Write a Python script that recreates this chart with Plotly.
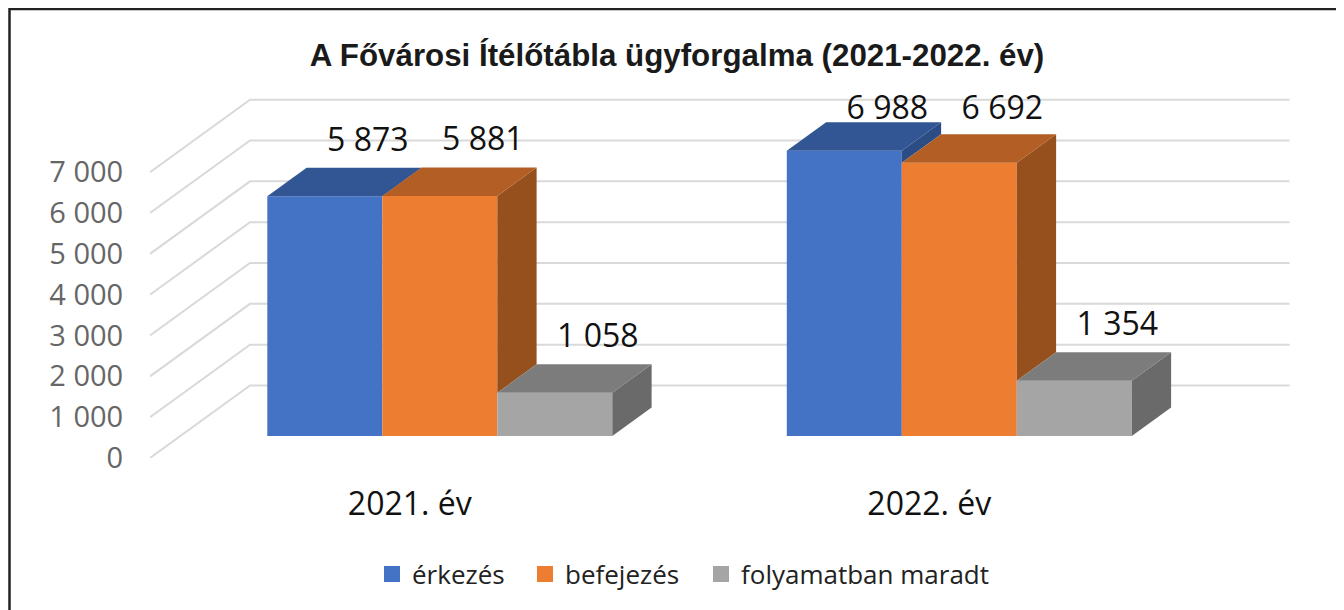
import plotly.graph_objects as go

categories = ["2021. év", "2022. év"]
series_names = ["érkezés", "befejezés", "folyamatban maradt"]
erkezes = [5873, 6988]
befejezes = [5881, 6692]
folyamatban = [1058, 1354]
series_values = [erkezes, befejezes, folyamatban]
value_labels = [["5 873", "6 988"], ["5 881", "6 692"], ["1 058", "1 354"]]
y_ticks = [0, 1000, 2000, 3000, 4000, 5000, 6000, 7000]
y_tick_labels = ["0", "1 000", "2 000", "3 000", "4 000", "5 000", "6 000", "7 000"]
front_colors = ["#4472C4", "#ED7D31", "#A5A5A5"]
top_colors = ["#325694", "#B35E24", "#7C7C7C"]
side_colors = ["#2B4C85", "#96501E", "#6A6A6A"]

PAGE = 8  # the page body offsets the figure by 8 px
W, H = 1344 - PAGE, 610 - PAGE
LEFT, RIGHT, TOP, BOTTOM = 150 - PAGE, 1300 - PAGE, 90 - PAGE, 458 - PAGE
PX_X = 519.5
PX_Y = 285.8 / 7000
XMAX = (RIGHT - LEFT) / PX_X
YMAX = (BOTTOM - TOP) / PX_Y
DX = 100 / PX_X
DY = 72.5 / PX_Y
D0, D1 = 0.303, 0.696
GROUP_START = 87 / PX_X
BAR_W = 115 / PX_X
GRID_END = (1289.5 - PAGE - LEFT) / PX_X
LABEL_DX = 43 / PX_X
LABEL_DY = 53.5 / PX_Y
LABEL_CEIL = (BOTTOM - (111 - PAGE)) / PX_Y
GRID = "#D9D9D9"
LEGEND_LEFT = [372, 525, 701]
LEGEND_IDS = ["legend", "legend2", "legend3"]


def proj(u, v, d):
    return u + d * DX, v + d * DY


fig = go.Figure()

gx, gy = [], []
for t in y_ticks:
    a = proj(0, t, 0)
    b = proj(0, t, 1)
    gx += [a[0], b[0], GRID_END, None]
    gy += [a[1], b[1], b[1], None]
fig.add_trace(go.Scatter(x=gx, y=gy, mode="lines", line=dict(color=GRID, width=2),
                         showlegend=False, hoverinfo="skip"))

for s, vals in enumerate(series_values):
    xs = [proj(i + GROUP_START + (s + 0.5) * BAR_W, 0, D0)[0] for i in range(len(vals))]
    base = proj(0, 0, D0)[1]
    fig.add_trace(go.Bar(x=xs, y=vals, base=base, width=BAR_W,
                         marker=dict(color=front_colors[s], line=dict(width=0)),
                         xaxis="x2", yaxis="y2", showlegend=False, hoverinfo="skip"))
    fig.add_trace(go.Scatter(x=[None], y=[None], mode="markers", name=series_names[s],
                             marker=dict(color=front_colors[s], symbol="square", size=16),
                             legend=LEGEND_IDS[s], showlegend=True,
                             xaxis="x2", yaxis="y2", hoverinfo="skip"))

for s, vals in enumerate(series_values):
    for i, v in enumerate(vals):
        u0 = i + GROUP_START + s * BAR_W
        u1 = u0 + BAR_W
        pts = [proj(u0, v, D0), proj(u1, v, D0), proj(u1, v, D1), proj(u0, v, D1)]
        low = series_values[s + 1][i] if s + 1 < len(series_values) else 0
        if low < v:
            side = [proj(u1, v, D0), proj(u1, v, D1), proj(u1, low, D1), proj(u1, low, D0)]
            fig.add_trace(go.Scatter(x=[p[0] for p in side] + [side[0][0]],
                                     y=[p[1] for p in side] + [side[0][1]],
                                     mode="lines", fill="toself", fillcolor=side_colors[s],
                                     line=dict(width=0), xaxis="x2", yaxis="y2",
                                     showlegend=False, hoverinfo="skip"))
        fig.add_trace(go.Scatter(x=[p[0] for p in pts] + [pts[0][0]],
                                 y=[p[1] for p in pts] + [pts[0][1]],
                                 mode="lines", fill="toself", fillcolor=top_colors[s],
                                 line=dict(width=0), xaxis="x2", yaxis="y2",
                                 showlegend=False, hoverinfo="skip"))

lx, ly, lt = [], [], []
for s, vals in enumerate(series_values):
    for i, v in enumerate(vals):
        px, py = proj(i + GROUP_START + (s + 0.5) * BAR_W, v, D0)
        lx.append(px + LABEL_DX)
        ly.append(min(py + LABEL_DY, LABEL_CEIL))
        lt.append(value_labels[s][i])
fig.add_trace(go.Scatter(x=lx, y=ly, text=lt, mode="text", textposition="middle center",
                         textfont=dict(family="Open Sans", size=32, color="#111111"),
                         xaxis="x2", yaxis="y2", showlegend=False, hoverinfo="skip"))


def legend_at(left):
    return dict(orientation="h", xref="container", yref="container",
                x=(left - PAGE) / W, xanchor="left", y=1 - (574 - PAGE) / H, yanchor="middle",
                font=dict(family="Open Sans", size=26, color="#222222"),
                bgcolor="rgba(0,0,0,0)")


fig.update_layout(
    width=W, height=H, autosize=False,
    paper_bgcolor="white", plot_bgcolor="white",
    margin=dict(l=LEFT, r=W - RIGHT, t=TOP, b=H - BOTTOM),
    barmode="overlay",
    title=dict(text="<b>A Fővárosi Ítélőtábla ügyforgalma (2021-2022. év)</b>",
               x=(677 - PAGE) / W, xanchor="center", y=1 - (55 - PAGE) / H, yanchor="middle",
               font=dict(family="Liberation Sans", size=31.3, color="#1a1a1a")),
    xaxis=dict(range=[0, XMAX], tickvals=[0.5, 1.5], ticktext=categories,
               showgrid=False, zeroline=False, showline=False, ticks="outside",
               ticklen=18, tickcolor="rgba(0,0,0,0)",
               tickfont=dict(family="Open Sans", size=32, color="#111111")),
    yaxis=dict(range=[0, YMAX], tickvals=y_ticks, ticktext=y_tick_labels,
               showgrid=False, zeroline=False, showline=False, ticks="outside",
               ticklen=20, tickcolor="rgba(0,0,0,0)",
               tickfont=dict(family="Open Sans", size=29, color="#666666")),
    xaxis2=dict(range=[0, XMAX], overlaying="x", visible=False),
    yaxis2=dict(range=[0, YMAX], overlaying="y", visible=False),
    legend=legend_at(LEGEND_LEFT[0]),
    legend2=legend_at(LEGEND_LEFT[1]),
    legend3=legend_at(LEGEND_LEFT[2]),
)
fig.update_layout(shapes=[dict(type="rect", xref="x domain", yref="y domain",
                               x0=(1.5 - LEFT) / (RIGHT - LEFT), x1=(W - 0.5 - LEFT) / (RIGHT - LEFT),
                               y0=(BOTTOM - 640) / (BOTTOM - TOP), y1=(BOTTOM - 1) / (BOTTOM - TOP),
                               line=dict(color="#222222", width=2.5), layer="below")])
fig.write_html("out.html")
